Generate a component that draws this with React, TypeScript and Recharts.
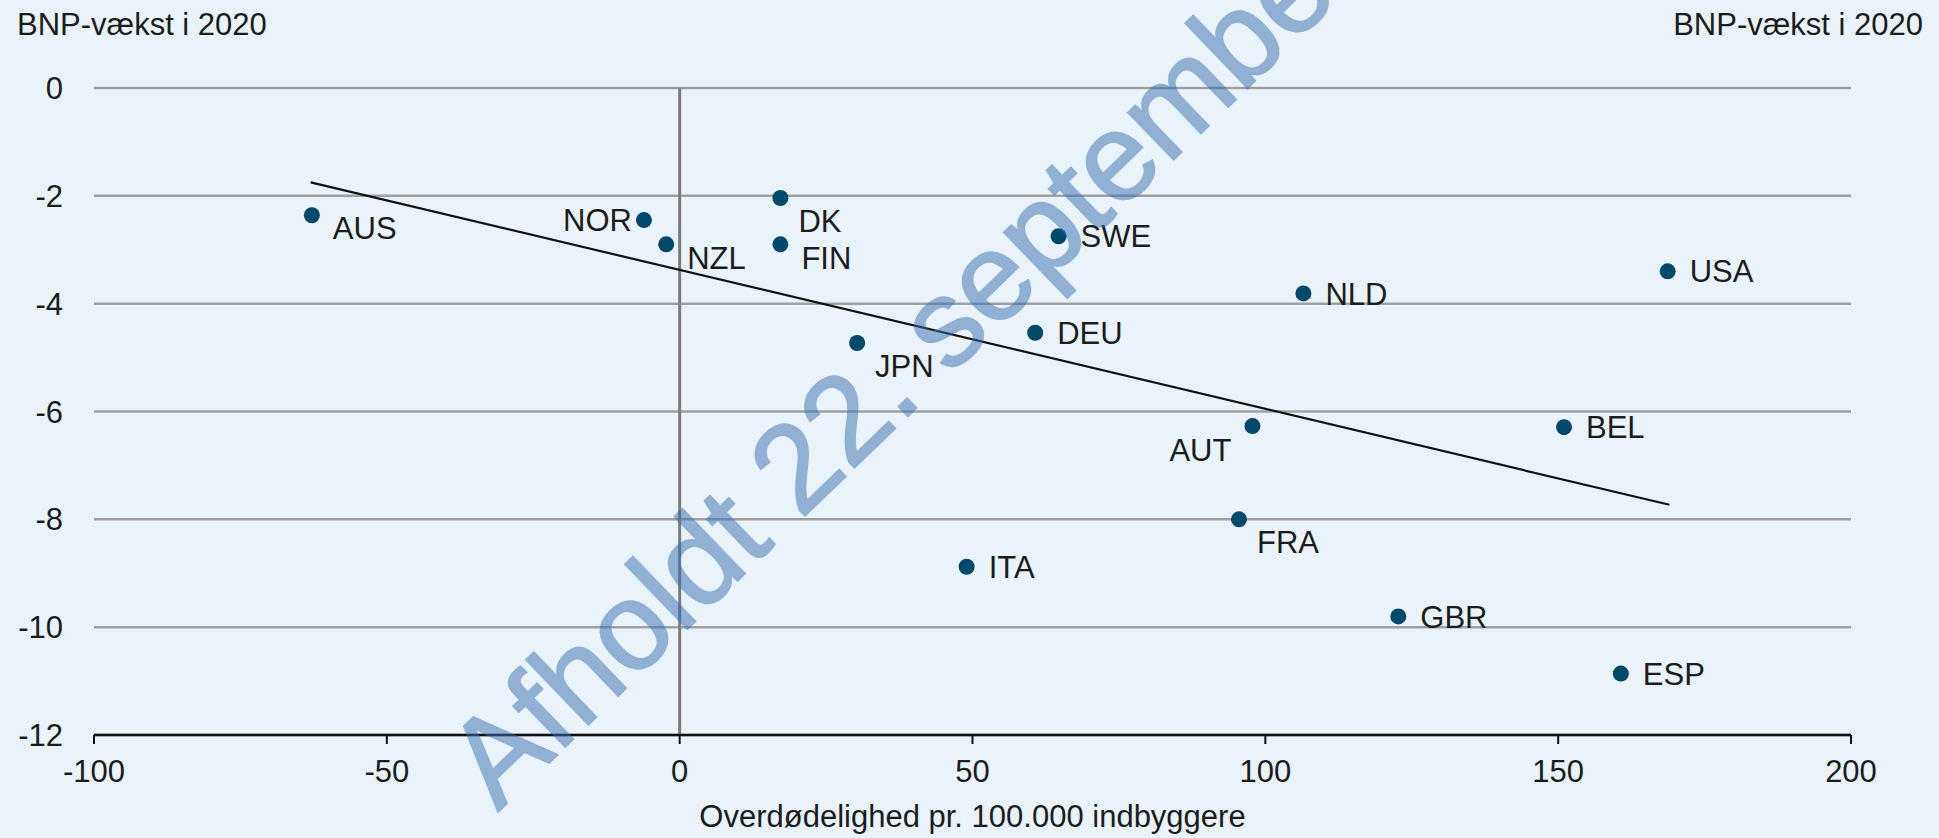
import { ScatterChart, Scatter, XAxis, YAxis, CartesianGrid, ReferenceLine, Label } from 'recharts'

const countries = ['AUS', 'NOR', 'NZL', 'DK', 'FIN', 'SWE', 'JPN', 'DEU', 'NLD', 'USA', 'AUT', 'BEL', 'FRA', 'ITA', 'GBR', 'ESP']
const excessDeaths = [-62.8, -6.1, -2.3, 17.2, 17.2, 64.7, 30.3, 60.7, 106.5, 168.7, 97.8, 151, 95.5, 49, 122.7, 160.7]
const gdpGrowth = [-2.36, -2.45, -2.9, -2.04, -2.9, -2.75, -4.73, -4.54, -3.81, -3.4, -6.27, -6.29, -8.0, -8.88, -9.8, -10.86]

const xTicks = [-100, -50, 0, 50, 100, 150, 200]
const yTicks = [-12, -10, -8, -6, -4, -2, 0]

// trend line end points
const trendX = [-63, 169]
const trendY = [-1.75, -7.73]

const yTitle = 'BNP-vækst i 2020'
const xTitle = 'Overdødelighed pr. 100.000 indbyggere'
const watermark = 'Afholdt 22. september'

// where each country label sits relative to its dot
const labelPlacement: Record<string, string> = {
  AUS: 'rb', NOR: 'l', NZL: 'rb', DK: 'rbb', FIN: 'rb', SWE: 'r', JPN: 'rbb', DEU: 'r',
  NLD: 'r', USA: 'r', AUT: 'lb', BEL: 'r', FRA: 'rbb', ITA: 'r', GBR: 'r', ESP: 'r',
}
const placements: Record<string, { dx: number; dy: number; anchor: 'start' | 'end' }> = {
  r: { dx: 22, dy: 0, anchor: 'start' },
  rb: { dx: 21, dy: 13, anchor: 'start' },
  rbb: { dx: 18, dy: 23, anchor: 'start' },
  l: { dx: -12, dy: 0, anchor: 'end' },
  lb: { dx: -21, dy: 24, anchor: 'end' },
}

const data = countries.map((name, i) => ({ name, x: excessDeaths[i], y: gdpGrowth[i] }))

const FONT = '"Liberation Sans", Arial, sans-serif'
const FS = 31
const TEXT = '#1c1c1c'
const BG = '#EAF3FA'

function CountryDot(props: any) {
  const { cx, cy, payload } = props
  const p = placements[labelPlacement[payload.name]]
  return (
    <g>
      <circle cx={cx} cy={cy} r={8} fill="#00496B" />
      <text
        x={cx + p.dx}
        y={cy + p.dy}
        dy="0.36em"
        textAnchor={p.anchor}
        fontSize={FS}
        fontFamily={FONT}
        fill={TEXT}
      >
        {payload.name}
      </text>
    </g>
  )
}

export default function App() {
  const tick = { fontSize: FS, fill: TEXT, fontFamily: FONT }
  return (
    <div style={{ position: 'absolute', left: 0, top: 0, width: 1939, height: 838, background: BG, overflow: 'hidden' }}>
      <ScatterChart width={1939} height={838} margin={{ top: 88, right: 0, bottom: 0, left: 0 }}>
        <CartesianGrid vertical={false} stroke="#a0a0a0" strokeWidth={2.5} />
        <XAxis
          dataKey="x"
          type="number"
          domain={[-100, 200]}
          ticks={xTicks}
          height={103}
          tick={tick}
          tickSize={9}
          tickMargin={16}
          axisLine={{ stroke: '#111', strokeWidth: 2.5 }}
          tickLine={{ stroke: '#111', strokeWidth: 2 }}
        >
          <Label value={xTitle} position="insideBottom" offset={11} fontSize={FS} fill={TEXT} fontFamily={FONT} />
        </XAxis>
        <YAxis
          dataKey="y"
          type="number"
          domain={[-12, 0]}
          ticks={yTicks}
          width={94}
          tick={tick}
          tickSize={6}
          tickMargin={25}
          axisLine={false}
          tickLine={false}
        />
        <YAxis
          yAxisId="right"
          orientation="right"
          type="number"
          domain={[-12, 0]}
          ticks={yTicks}
          width={88}
          tick={tick}
          tickSize={6}
          tickMargin={12}
          axisLine={false}
          tickLine={false}
        />
        <ReferenceLine x={0} stroke="#7c7c7c" strokeWidth={3} />
        <ReferenceLine
          segment={[{ x: trendX[0], y: trendY[0] }, { x: trendX[1], y: trendY[1] }]}
          stroke="#111"
          strokeWidth={2.2}
        />
        <Scatter data={data} shape={<CountryDot />} isAnimationActive={false} />
      </ScatterChart>
      <svg
        width={1939}
        height={838}
        style={{ position: 'absolute', left: 0, top: 0, pointerEvents: 'none' }}
      >
        <text x={17} y={35} fontSize={FS} fontFamily={FONT} fill={TEXT}>{yTitle}</text>
        <text x={1923} y={35} fontSize={FS} fontFamily={FONT} fill={TEXT} textAnchor="end">{yTitle}</text>
        <g opacity={0.5}>
          <text
            x={498}
            y={812}
            transform="rotate(-44 498 812)"
            fontSize={124}
            fontFamily={FONT}
            fill="#386FB0"
            stroke="#386FB0"
            strokeWidth={2}
          >
            {watermark}
          </text>
        </g>
      </svg>
    </div>
  )
}
